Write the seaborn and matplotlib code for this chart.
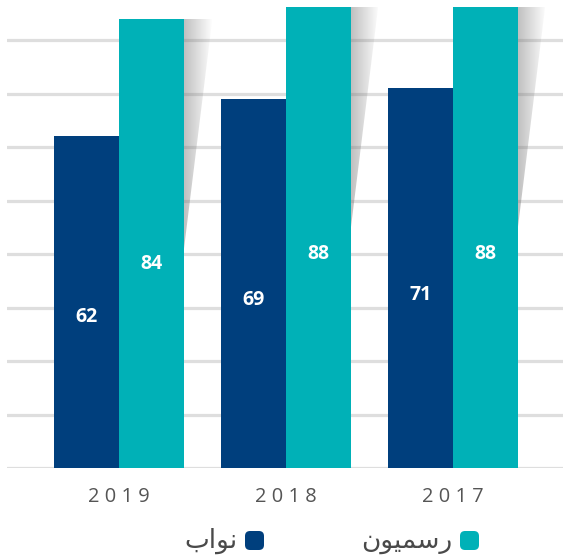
import numpy as np
import pandas as pd
import seaborn as sns
import matplotlib.pyplot as plt
from matplotlib.patches import Polygon, FancyBboxPatch

# data
years = ["2019", "2018", "2017"]
series_names = ["نواب", "رسميون"]
navy_values = [62, 69, 71]
teal_values = [84, 88, 88]
colors = ["#003F7D", "#00B1B7"]

# Arabic legend labels in visual (shaped, left-to-right) order for matplotlib
legend_labels = {
    "نواب": "\ufe8f\ufe8d\ufeee\ufee7",
    "رسميون": "\ufee5\ufeee\ufef4\ufee4\ufeb3\ufead",
}

df = pd.DataFrame({
    "year": years * 2,
    "group": [series_names[0]] * 3 + [series_names[1]] * 3,
    "value": navy_values + teal_values,
})

sns.set_style("white")
plt.rcParams['font.family'] = ['Open Sans', 'DejaVu Sans']

fig = plt.figure(figsize=(5.63, 5.58), dpi=100)
W, H = 563, 558
ax = fig.add_axes([7 / W, (H - 468) / H, 556 / W, 461 / H])

sns.barplot(data=df, x="year", y="value", hue="group", order=years,
            hue_order=series_names, palette=colors, width=0.78, gap=0,
            saturation=1, legend=False, ax=ax, zorder=3, edgecolor="none")

ax.set_yticks(np.arange(0, 81, 10))
ax.yaxis.grid(True, color="#dedede", linewidth=2.3, zorder=0)
ax.set_axisbelow(True)
ax.set_yticklabels([])
ax.tick_params(axis="y", length=0)
ax.tick_params(axis="x", length=0, pad=14)
ax.set_xticklabels([" ".join(y) for y in years], fontsize=14.4, color="#555555")
ax.set_xlabel("")
ax.set_ylabel("")
for s in ax.spines.values():
    s.set_visible(False)

# gradient shadow to the right of the teal bars
grad = np.zeros((1, 256, 4))
grad[..., :3] = 0.45
grad[..., 3] = np.linspace(0.45, 0.0, 256)
bars = ax.patches
for b in bars[3:6]:
    x0 = b.get_x() + b.get_width()
    top = b.get_height()
    sw, sl = 0.17, 43
    poly = Polygon([(x0, top), (x0 + sw, top), (x0, top - sl)],
                   closed=True, transform=ax.transData, facecolor="none",
                   edgecolor="none")
    ax.add_patch(poly)
    im = ax.imshow(grad, extent=(x0, x0 + sw, top - sl, top), aspect="auto",
                   zorder=2, interpolation="bilinear")
    im.set_clip_path(poly)

ax.set_xlim(-0.67, 2.66)
ax.set_ylim(0, 86.2)

# value labels inside the bars
for b in bars[:6]:
    v = b.get_height()
    ax.text(b.get_x() + b.get_width() / 2, v * 0.455, f"{v:.0f}",
            ha="center", va="center", color="white", fontsize=14,
            fontweight="bold", zorder=5)

# legend at the bottom, right-to-left
for name, color, mx in [(series_names[0], colors[0], 244),
                        (series_names[1], colors[1], 459)]:
    fig.add_artist(FancyBboxPatch(((mx + 1) / W, (H - 550) / H), 19 / W, 19 / H,
                                  boxstyle="round,pad=0,rounding_size=0.009",
                                  transform=fig.transFigure, facecolor=color,
                                  edgecolor="none"))
    fig.text((mx - 7) / W, (H - 541) / H, legend_labels[name], ha="right",
             va="center", fontsize=19, color="#4a4a4a", family=["DejaVu Sans"])

fig.savefig("out.png", dpi=100)
